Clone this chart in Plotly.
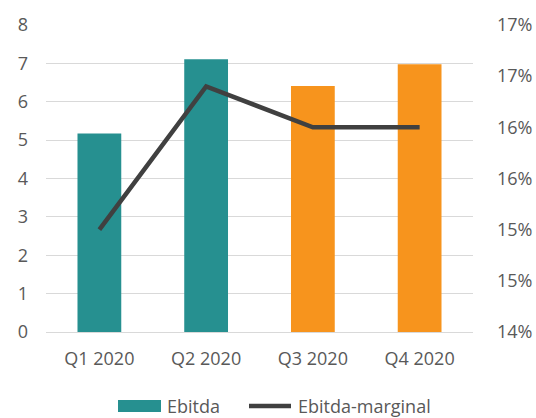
import plotly.graph_objects as go

quarters = ["Q1 2020", "Q2 2020", "Q3 2020", "Q4 2020"]
ebitda = [5.17, 7.11, 6.41, 6.98]
ebitda_margin = [15.0, 16.4, 16.0, 16.0]  # percent
bar_colors = ["#269090", "#269090", "#F7941D", "#F7941D"]

FONT = "Open Sans"
GREY = "#595959"
TEAL = "#269090"
LINE = "#404040"
FS = 18

W, H = 536, 418
ML, MR, MT, MB = 46, 63, 25, 86

fig = go.Figure()

fig.add_trace(go.Bar(
    x=quarters, y=ebitda, name="Ebitda",
    marker=dict(color=bar_colors, line=dict(width=0)),
    width=0.41, yaxis="y", showlegend=False,
))
fig.add_trace(go.Scatter(
    x=quarters, y=ebitda_margin, name="Ebitda-marginal",
    mode="lines", line=dict(color=LINE, width=4.5),
    yaxis="y2", showlegend=False,
))

# Legend drawn in pixel-like paper coordinates below the plot
ph = H - MT - MB
pw = W - ML - MR
def px(x):
    return (x - ML) / pw
def py(y):
    return (H - MB - y) / ph

shapes = [
    dict(type="rect", xref="paper", yref="paper",
         x0=px(118), x1=px(161), y0=py(412), y1=py(400),
         fillcolor=TEAL, line=dict(width=0)),
    dict(type="line", xref="paper", yref="paper",
         x0=px(249), x1=px(291), y0=py(406), y1=py(406),
         line=dict(color=LINE, width=4.5)),
]
annotations = [
    dict(text="Ebitda", xref="paper", yref="paper", x=px(165), y=py(406),
         xanchor="left", yanchor="middle", showarrow=False,
         font=dict(family=FONT, size=FS, color=GREY)),
    dict(text="Ebitda-marginal", xref="paper", yref="paper", x=px(296),
         y=py(406), xanchor="left", yanchor="middle", showarrow=False,
         font=dict(family=FONT, size=FS, color=GREY)),
]

fig.update_layout(
    width=W, height=H,
    margin=dict(l=ML, r=MR, t=MT, b=MB, autoexpand=False),
    paper_bgcolor="white", plot_bgcolor="white",
    font=dict(family=FONT, size=FS, color=GREY),
    xaxis=dict(showgrid=False, showline=True, linecolor="#D9D9D9",
               ticks="", ticklabelstandoff=10,
               tickfont=dict(family=FONT, size=FS, color=GREY)),
    yaxis=dict(range=[0, 8], dtick=1, showgrid=True, gridcolor="#D9D9D9",
               gridwidth=1, zeroline=False, ticks="", ticklabelstandoff=17,
               tickfont=dict(family=FONT, size=FS, color=GREY)),
    yaxis2=dict(range=[14, 17], dtick=0.5, overlaying="y", side="right",
                showgrid=False, zeroline=False, tickformat=".0f",
                ticksuffix="%", ticks="", ticklabelstandoff=23,
                tickfont=dict(family=FONT, size=FS, color=GREY)),
    shapes=shapes,
    annotations=annotations,
    showlegend=False,
)

fig.write_html("out.html")
